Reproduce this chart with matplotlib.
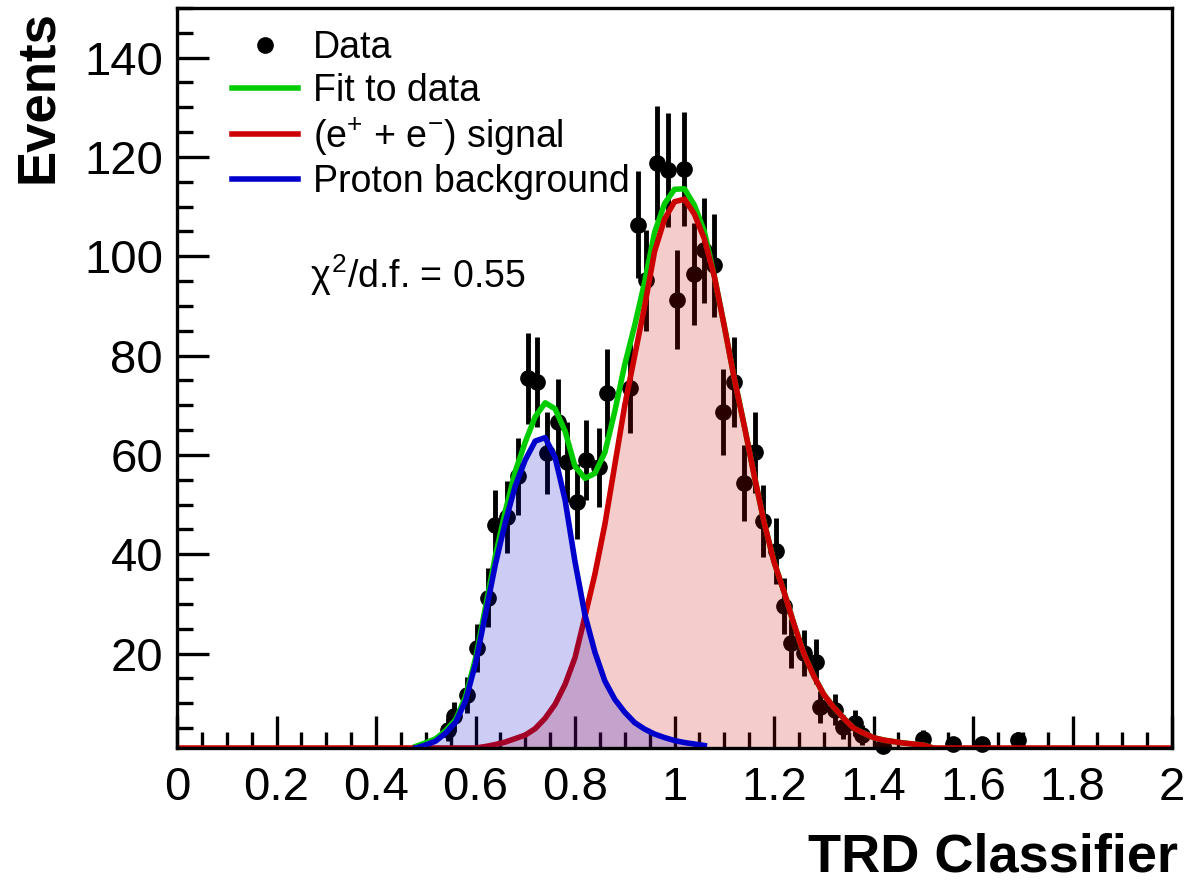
import numpy as np
import matplotlib
matplotlib.use("Agg")
import matplotlib.pyplot as plt
from matplotlib.lines import Line2D
from matplotlib.ticker import MultipleLocator, FormatStrFormatter

plt.rcParams["font.family"] = ["Liberation Sans", "DejaVu Sans"]
plt.rcParams["mathtext.fontset"] = "custom"
plt.rcParams["mathtext.rm"] = "Liberation Sans"
plt.rcParams["mathtext.it"] = "Liberation Sans"
plt.rcParams["mathtext.bf"] = "Liberation Sans:bold"

# Data points (TRD classifier, events) and their errors
data_x = [0.545, 0.557, 0.583, 0.603, 0.625, 0.640, 0.664, 0.685, 0.706, 0.724,
          0.743, 0.765, 0.783, 0.804, 0.823, 0.849, 0.864, 0.911, 0.926, 0.943,
          0.965, 0.986, 1.006, 1.019, 1.040, 1.060, 1.080, 1.097, 1.120, 1.139,
          1.161, 1.178, 1.204, 1.221, 1.235, 1.261, 1.284, 1.292, 1.322, 1.339,
          1.362, 1.376, 1.419, 1.500, 1.560, 1.619, 1.690]
data_y = [4.7, 7.4, 11.6, 21.2, 31.3, 45.9, 47.5, 55.7, 75.4, 74.7,
          60.4, 66.7, 58.6, 50.6, 59.0, 57.5, 72.5, 73.4, 106.4, 95.2,
          118.8, 117.4, 91.3, 117.6, 96.5, 101.2, 98.2, 68.7, 74.7, 54.4,
          60.5, 46.7, 40.7, 29.6, 22.1, 20.1, 18.4, 9.3, 8.7, 5.3,
          6.0, 3.6, 1.4, 2.8, 1.8, 1.8, 2.6]
data_err = [2.3, 2.9, 3.6, 4.8, 5.9, 7.1, 7.2, 7.8, 9.1, 9.1,
            8.2, 8.6, 8.0, 7.5, 8.1, 8.0, 8.9, 9.0, 10.8, 10.2,
            11.4, 11.4, 10.0, 11.4, 10.3, 10.6, 10.4, 8.7, 9.1, 7.7,
            8.2, 7.2, 6.7, 5.7, 4.9, 4.7, 4.5, 3.2, 3.1, 2.4,
            2.6, 2.0, 1.2, 1.8, 1.4, 1.4, 1.7]

# Proton background template
bkg_x = np.round(np.arange(0.48, 1.061, 0.02), 2)
bkg_y = [0.9, 1.6, 2.4, 4.0, 6.2, 10.5, 18.0, 28.0, 38.0, 46.5,
         53.8, 59.0, 62.8, 63.5, 59.5, 51.0, 38.5, 27.8, 20.3, 14.5,
         10.8, 8.2, 6.1, 4.8, 3.8, 3.1, 2.5, 2.1, 1.8, 1.5]

# (e+ + e-) signal template
sig_x = np.round(np.arange(0.56, 1.521, 0.02), 2)
sig_y = [0.5, 0.8, 1.0, 1.3, 1.7, 2.2, 2.9, 3.6, 4.9, 7.0,
         9.8, 13.8, 19.2, 27.5, 36.0, 46.0, 58.0, 70.0, 80.0, 90.0,
         101.0, 107.5, 111.0, 111.5, 108.5, 103.5, 96.0, 86.0, 75.5, 66.0,
         56.0, 46.5, 38.5, 32.5, 26.0, 20.0, 15.5, 11.8, 9.2, 7.0,
         5.0, 4.0, 3.1, 2.6, 2.3, 2.0, 1.8, 1.6, 0.0]

YMIN, YMAX = 1.0, 150.0

sig_full_x = np.concatenate([[0.0], sig_x, [2.0]])
sig_full_y = np.concatenate([[0.0], sig_y, [0.0]])

# fit = background + signal
fit_x = np.round(np.arange(0.48, 1.521, 0.02), 2)
fit_y = (np.interp(fit_x, bkg_x, bkg_y, left=0, right=0)
         + np.interp(fit_x, sig_full_x, sig_full_y))

RED, GREEN, BLUE = "#CC0000", "#00CC00", "#0000CC"

fig = plt.figure(figsize=(11.88, 8.83), dpi=100)
ax = fig.add_axes([177 / 1188, 1 - 748 / 883, (1172 - 177) / 1188, (748 - 8) / 883])

ax.errorbar(data_x, data_y, yerr=data_err, fmt="o", color="black", ms=11,
            elinewidth=3.5, capsize=0, zorder=1, clip_on=False)

ax.plot(fit_x, np.maximum(fit_y, YMIN), color=GREEN, lw=4, zorder=2)
ax.plot(sig_full_x, np.maximum(sig_full_y, YMIN), color=RED, lw=4, zorder=3)

ax.fill_between(sig_full_x, np.maximum(sig_full_y, YMIN), YMIN, color=RED, alpha=0.2, lw=0, zorder=4)
ax.fill_between(bkg_x, bkg_y, YMIN, color=BLUE, alpha=0.2, lw=0, zorder=4)
ax.plot(bkg_x, np.maximum(bkg_y, YMIN), color=BLUE, lw=4, zorder=5)

ax.set_xlim(0, 2)
ax.set_ylim(YMIN, YMAX)

ax.xaxis.set_major_locator(MultipleLocator(0.2))
ax.xaxis.set_minor_locator(MultipleLocator(0.05))
ax.xaxis.set_major_formatter(FormatStrFormatter("%g"))
ax.yaxis.set_major_locator(MultipleLocator(20))
ax.yaxis.set_minor_locator(MultipleLocator(5))

ax.tick_params(which="both", direction="in", top=False, right=False, width=2.4)
ax.tick_params(which="major", length=23, labelsize=34)
ax.tick_params(which="minor", length=11.5)
ax.tick_params(axis="x", which="major", pad=13)
ax.tick_params(axis="y", which="major", pad=10)
for sp in ax.spines.values():
    sp.set_linewidth(2.4)
    sp.set_zorder(6)

fig.text(38 / 1188, 1 - 10 / 883, "Events", rotation=90, ha="center", va="top",
         fontsize=38, fontweight="bold")
fig.text(1178 / 1188, 1 - 857 / 883, "TRD Classifier", ha="right", va="center",
         fontsize=39, fontweight="bold")

handles = [
    Line2D([], [], marker="o", ls="none", color="black", ms=11),
    Line2D([], [], color=GREEN, lw=4),
    Line2D([], [], color=RED, lw=4),
    Line2D([], [], color=BLUE, lw=4),
]
labels = ["Data", "Fit to data", r"(e$^{+}$ + e$^{-}$) signal", "Proton background"]
ax.legend(handles, labels, loc="upper left", bbox_to_anchor=(232 / 1188, 1 - 30 / 883),
          bbox_transform=fig.transFigure, frameon=False, borderpad=0, borderaxespad=0,
          handlelength=1.76, handletextpad=0.4, labelspacing=0.18, fontsize=27)

fig.text(310 / 1188, 1 - 275 / 883, r"$\chi^{2}$/d.f. = 0.55", ha="left", va="center",
         fontsize=27)

fig.savefig("out.png", dpi=100)
